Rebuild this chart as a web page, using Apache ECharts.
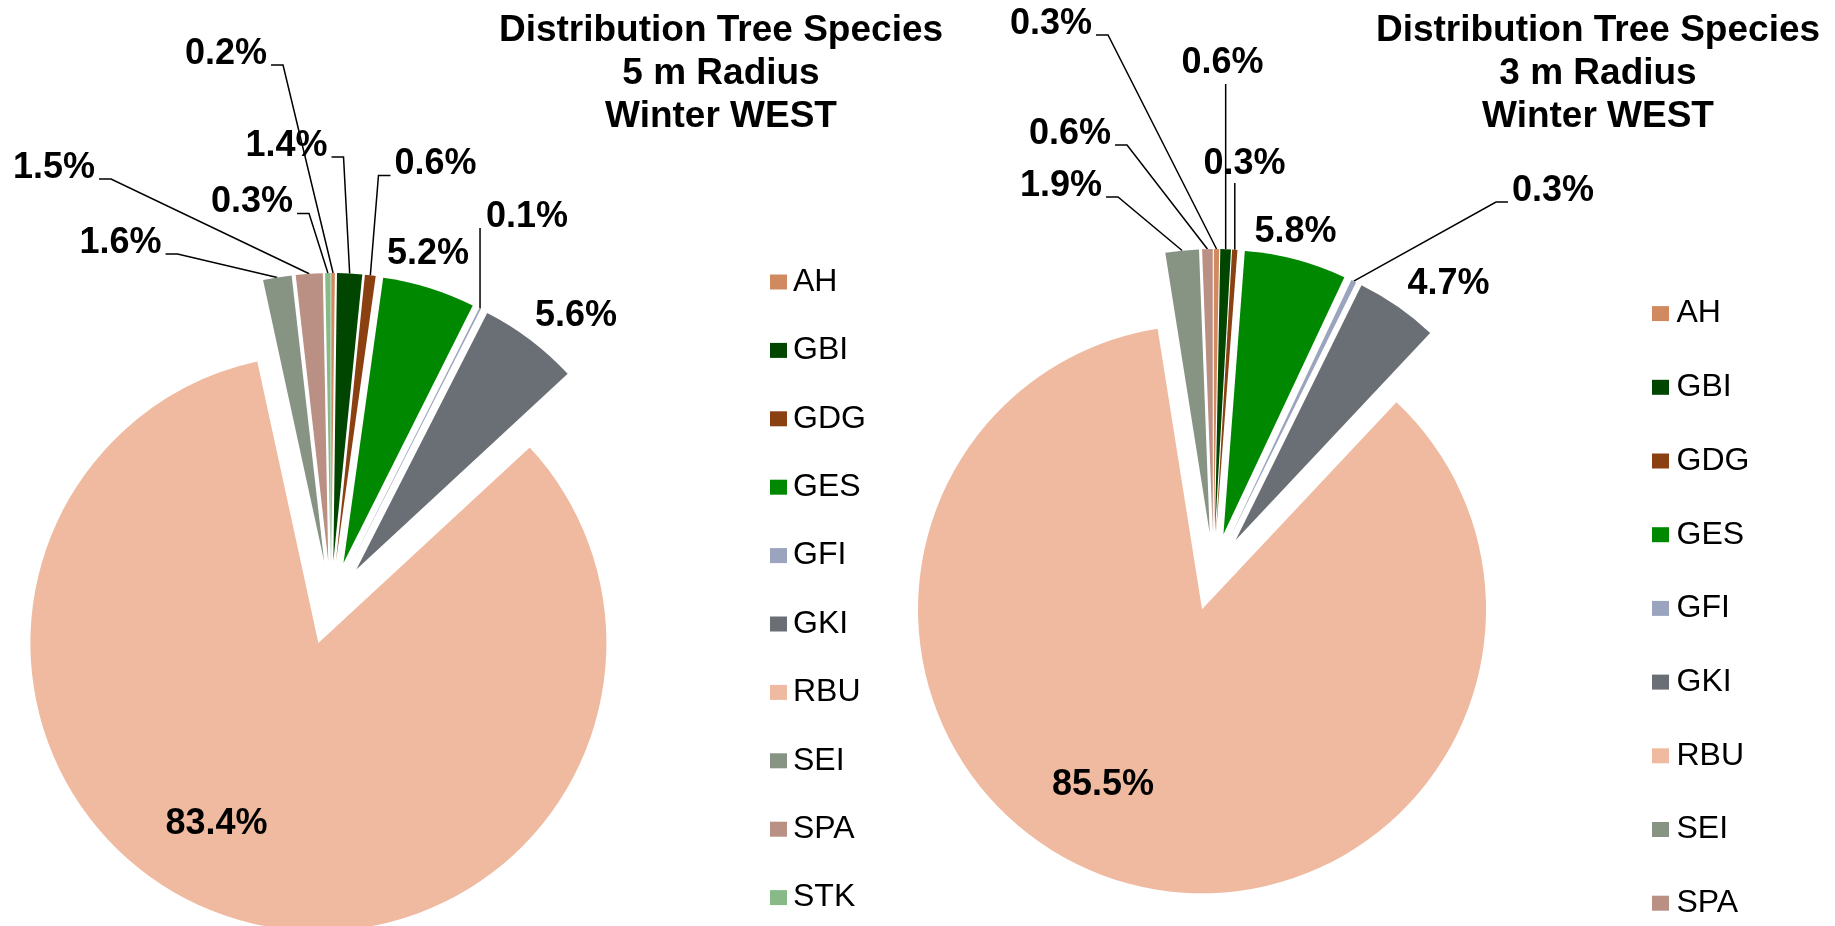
<!DOCTYPE html>
<html><head><meta charset="utf-8">
<script src="https://cdn.jsdelivr.net/npm/echarts@6.0.0/dist/echarts.min.js"></script>
<style>html,body{margin:0;padding:0;background:#fff}#c{width:1835px;height:926px}</style>
</head><body><div id="c"></div>
<script>
// ---- data ----
const categories5m = ['AH','GBI','GDG','GES','GFI','GKI','RBU','SEI','SPA','STK'];
const pct5m        = [0.2, 1.4, 0.6, 5.2, 0.1, 5.6, 83.4, 1.6, 1.5, 0.3];
const categories3m = ['AH','GBI','GDG','GES','GFI','GKI','RBU','SEI','SPA'];
const pct3m        = [0.3, 0.6, 0.3, 5.8, 0.3, 4.7, 85.5, 1.9, 0.6];
const title5m = ['Distribution Tree Species', '5 m Radius', 'Winter WEST'];
const title3m = ['Distribution Tree Species', '3 m Radius', 'Winter WEST'];

// ---- styles / layout ----
const palette = ['#D18A60','#004600','#8B4012','#008800','#9BA4BE','#6A6E75','#EFBAA0','#879383','#BA8F84','#88BA88'];
const FONT = "'Liberation Sans', Arial, sans-serif";
const LABEL_FS = 36;
const geo5m = {center: [331, 603], r: 288, explode: 42};
const geo3m = {center: [1213.5, 572], r: 284, explode: 39};
// label text centres and the side where the leader line attaches
const labels5m = {
  AH:  {x: 226,   y: 54,  side: 'right'},
  GBI: {x: 286.5, y: 146, side: 'right'},
  GDG: {x: 435.5, y: 164.5, side: 'left'},
  GES: {x: 428,   y: 254},
  GFI: {x: 527,   y: 217, side: 'bottom', by: 11},
  GKI: {x: 576,   y: 316},
  RBU: {x: 216.5, y: 824},
  SEI: {x: 120.5, y: 243, side: 'right'},
  SPA: {x: 54,    y: 168, side: 'right'},
  STK: {x: 252,   y: 202.5, side: 'right'}
};
const labels3m = {
  AH:  {x: 1051,  y: 24,  side: 'right'},
  GBI: {x: 1222.5,y: 63,  side: 'bottom', by: 21},
  GDG: {x: 1244.5,y: 164, side: 'bottom', by: 19},
  GES: {x: 1295.5,y: 232.5},
  GFI: {x: 1553,  y: 191, side: 'left'},
  GKI: {x: 1448.5,y: 284},
  RBU: {x: 1103,  y: 785},
  SEI: {x: 1061,  y: 186, side: 'right'},
  SPA: {x: 1070,  y: 134, side: 'right'}
};

function placeLabel(p, cats, lab) {
  const L = lab[cats[p.dataIndex]];
  if (!L) return {};
  const out = {x: L.x, y: L.y, align: 'center', verticalAlign: 'middle'};
  const pts = p.labelLinePoints;
  if (L.side && pts && pts[0]) {
    const s = [pts[0][0], pts[0][1]];
    const w = p.labelRect.width;
    const ty = L.y + 11;
    if (L.side === 'right') {
      const ex = L.x + w / 2 + 4;
      out.labelLinePoints = [s, [ex + 12, ty], [ex, ty]];
    } else if (L.side === 'left') {
      const ex = L.x - w / 2 - 4;
      out.labelLinePoints = [s, [ex - 12, ty], [ex, ty]];
    } else {
      const by = L.y + (L.by || 20);
      out.labelLinePoints = [s, [s[0], by], [s[0], by]];
    }
  }
  return out;
}

function makePies(cats, vals, geo, lab) {
  const main = {
    type: 'pie', center: geo.center, radius: geo.r, startAngle: 90, clockwise: true,
    selectedMode: 'multiple', selectedOffset: geo.explode,
    color: palette, silent: true, avoidLabelOverlap: false,
    label: {show: false}, labelLine: {show: false},
    emphasis: {disabled: true},
    select: {itemStyle: {borderWidth: 0}},
    itemStyle: {borderWidth: 0},
    data: cats.map((n, i) => ({name: n, value: vals[i], selected: true}))
  };
  const carrier = {
    type: 'pie', center: geo.center, radius: geo.r + geo.explode, startAngle: 90, clockwise: true,
    selectedMode: false, silent: true, avoidLabelOverlap: false,
    itemStyle: {color: 'rgba(0,0,0,0)', borderWidth: 0},
    emphasis: {disabled: true},
    label: {
      show: true, position: 'outside', color: '#000', fontSize: LABEL_FS, fontWeight: 'bold',
      fontFamily: FONT, formatter: q => q.value.toFixed(1) + '%'
    },
    labelLine: {show: true, length: 10, length2: 10, lineStyle: {color: '#000', width: 1.5}},
    labelLayout: p => placeLabel(p, cats, lab),
    data: cats.map((n, i) => ({name: n, value: vals[i], labelLine: {show: !!(lab[n] && lab[n].side)}}))
  };
  return [main, carrier];
}

const [m5, c5] = makePies(categories5m, pct5m, geo5m, labels5m);
const [m3, c3] = makePies(categories3m, pct3m, geo3m, labels3m);

function legend(cats, left, top, gap, textPad) {
  return {
    data: cats, orient: 'vertical', left: left, top: top, padding: 0, itemGap: gap,
    itemWidth: 17, itemHeight: 15, icon: 'rect', selectedMode: false,
    textStyle: {fontSize: 32, lineHeight: 32, color: '#000', fontFamily: FONT, padding: [0, 0, 0, textPad]}
  };
}
function title(lines, cx) {
  return {
    text: lines.join('\n'), left: cx, top: 9, textAlign: 'center', padding: 0,
    textStyle: {fontSize: 37, fontWeight: 'bold', lineHeight: 43, color: '#000', fontFamily: FONT}
  };
}

const chart = echarts.init(document.getElementById('c'), null, {renderer: 'canvas'});
chart.setOption({
  backgroundColor: '#fff',
  animation: false,
  title: [title(title5m, 721), title(title3m, 1598)],
  legend: [legend(categories5m, 770, 266, 36.4, 1), legend(categories3m, 1652, 297.6, 41.7, 2.5)],
  series: [m5, m3, c5, c3]
});
</script>
</body></html>
